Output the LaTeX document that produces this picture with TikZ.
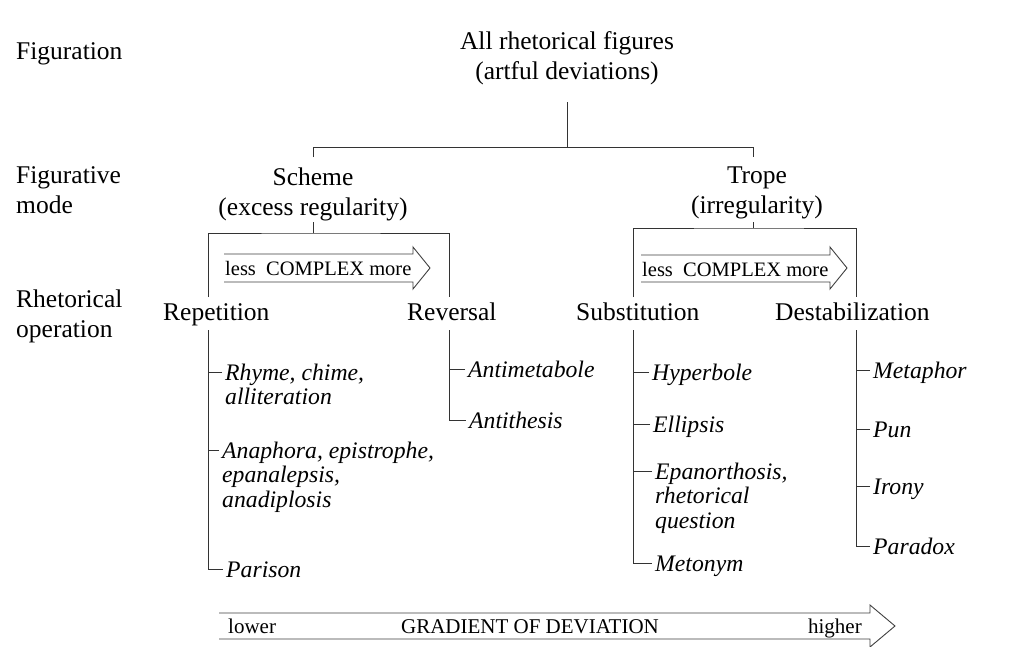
\documentclass[tikz,border=0pt]{standalone}
\usepackage{fontspec}
\setmainfont{Liberation Serif}
\usetikzlibrary{calc}

\tikzset{
  lbl/.style={font=\fontsize{25.5}{30}\selectfont, inner sep=0pt, anchor=base west, align=left},
  ctr/.style={font=\fontsize{25.5}{30}\selectfont, inner sep=0pt, anchor=base, align=center},
  fig/.style={font=\fontsize{23.7}{24.5}\selectfont\itshape, inner sep=0pt, anchor=base west, align=left},
  arrtext/.style={font=\fontsize{20.5}{22}\selectfont, inner sep=0pt, anchor=base west},
  gradtext/.style={font=\fontsize{21}{23}\selectfont, inner sep=0pt},
  tree/.style={line width=0.9pt, draw=black!80},
  outline/.style={line width=0.9pt, draw=black!75, line join=miter},
}

% tick point to the left of the first line of an item label
% (#2 = number of lines; the node's base is its last line)
\newcommand{\ticklabel}[2]{\coordinate (#1-t) at ($(#1.base west)+(-3,{-8-(#2-1)*24.5})$);}

\begin{document}
\begin{tikzpicture}[x=1pt,y=-1pt]
\useasboundingbox (0,0) rectangle (1034,646);
\fill[white] (0,0) rectangle (1034,646);

% level labels on the left
\node[lbl] (lvl1) at (16,59) {Figuration};
\node[lbl] (lvl2) at (16,213) {Figurative\\mode};
\node[lbl] (lvl3) at (16,337) {Rhetorical\\operation};

% root and figurative modes
\node[ctr] (all) at (567,79) {All rhetorical figures\\(artful deviations)};
\node[ctr] (scheme) at (313,215) {Scheme\\(excess regularity)};
\node[ctr] (trope) at (757,213) {Trope\\(irregularity)};

% rhetorical operations
\node[lbl] (rep) at (163,320) {Repetition};
\node[lbl] (rev) at (407,320) {Reversal};
\node[lbl] (sub) at (576,320) {Substitution};
\node[lbl] (des) at (775,320) {Destabilization};

% root split
\coordinate (rootdrop) at (567,102);
\coordinate (rootbar) at (567,147);
\coordinate (schemetop) at (313,157);
\coordinate (tropetop) at (753,157);
\draw[tree] (rootdrop) -- (rootbar);
\draw[tree] (schemetop) -- ++(0,-10) -| (tropetop);

% scheme bracket
\coordinate (schemebar) at (313,233);
\coordinate (repbr) at (208,297);
\coordinate (revbr) at (449,297);
\draw[tree] (schemebar) -- ++(0,-11);
\draw[tree] (repbr) |- (schemebar) -| (revbr);

% trope bracket
\coordinate (tropebar) at (753,228);
\coordinate (subbr) at (633,297);
\coordinate (desbr) at (856,297);
\draw[tree] (tropebar) -- ++(0,-6);
\draw[tree] (subbr) |- (tropebar) -| (desbr);

% complexity arrows
\node[arrtext] (cx1) at (225,275) {less\hspace{0.5em}COMPLEX more};
\draw[outline] (224,254) -- (413,254) -- (413,247) -- (430,268) -- (413,289) -- (413,282) -- (224,282);
\node[arrtext] (cx2) at (642,276) {less\hspace{0.5em}COMPLEX more};
\draw[outline] (641,255) -- (830,255) -- (830,247) -- (847,268) -- (830,289) -- (830,282) -- (641,282);

% repetition figures
\node[fig] (rhyme) at (225,404.5) {Rhyme, chime,\\alliteration};
\node[fig] (anaph) at (222,507) {Anaphora, epistrophe,\\epanalepsis,\\anadiplosis};
\node[fig] (parison) at (226,577) {Parison};
% reversal figures
\node[fig] (antim) at (468,377) {Antimetabole};
\node[fig] (antit) at (469,428) {Antithesis};
% substitution figures
\node[fig] (hyper) at (652,380) {Hyperbole};
\node[fig] (ellip) at (653,432) {Ellipsis};
\node[fig] (epan) at (655,528) {Epanorthosis,\\rhetorical\\question};
\node[fig] (meton) at (655,571) {Metonym};
% destabilization figures
\node[fig] (metaph) at (873,378) {Metaphor};
\node[fig] (pun) at (873,437) {Pun};
\node[fig] (irony) at (873,494) {Irony};
\node[fig] (parad) at (873,554) {Paradox};

\foreach \n/\k in {rhyme/2,anaph/3,parison/1,antim/1,antit/1,hyper/1,ellip/1,epan/3,meton/1,metaph/1,pun/1,irony/1,parad/1}{\ticklabel{\n}{\k}}

% spines below each operation
\coordinate (repsp) at (208,330);
\coordinate (revsp) at (449,330);
\coordinate (subsp) at (633,330);
\coordinate (dessp) at (856,330);

\draw[tree] (repsp) |- (parison-t);
\draw[tree] (rhyme-t) -- (rhyme-t -| repsp);
\draw[tree] (anaph-t) -- (anaph-t -| repsp);

\draw[tree] (revsp) |- (antit-t);
\draw[tree] (antim-t) -- (antim-t -| revsp);

\draw[tree] (subsp) |- (meton-t);
\draw[tree] (hyper-t) -- (hyper-t -| subsp);
\draw[tree] (ellip-t) -- (ellip-t -| subsp);
\draw[tree] (epan-t) -- (epan-t -| subsp);

\draw[tree] (dessp) |- (parad-t);
\draw[tree] (metaph-t) -- (metaph-t -| dessp);
\draw[tree] (pun-t) -- (pun-t -| dessp);
\draw[tree] (irony-t) -- (irony-t -| dessp);

% gradient of deviation
\node[gradtext, anchor=base west] (lower) at (228,633) {lower};
\node[gradtext, anchor=base] (grad) at (530,633) {GRADIENT OF DEVIATION};
\node[gradtext, anchor=base east] (higher) at (862,633) {higher};
\draw[outline] (219,613) -- (870,613) -- (870,605) -- (895,626) -- (870,647) -- (870,639) -- (219,639);
\end{tikzpicture}
\end{document}
